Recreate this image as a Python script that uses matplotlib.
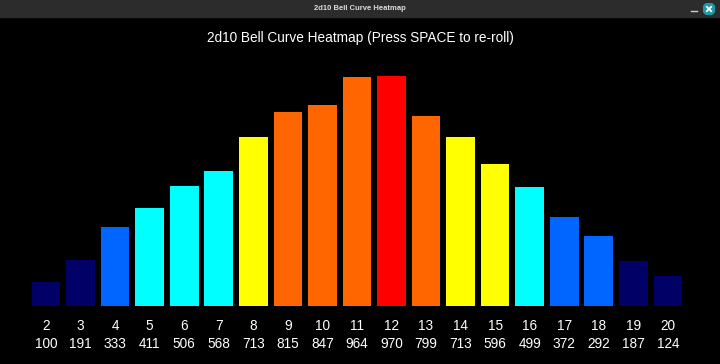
import matplotlib
matplotlib.use('Agg')
import matplotlib.pyplot as plt
import matplotlib.transforms as mtransforms
from matplotlib.patches import Rectangle, Circle

sums = list(range(2, 21))
counts = [100, 191, 333, 411, 506, 568, 713, 815, 847, 964,
          970, 799, 713, 596, 499, 372, 292, 187, 124]

title = '2d10 Bell Curve Heatmap (Press SPACE to re-roll)'
window_title = '2d10 Bell Curve Heatmap'


def heat_color(v, vmax):
    r = v / vmax
    if r >= 1.0:
        return '#ff0000'
    if r >= 0.8:
        return '#ff6600'
    if r >= 0.6:
        return '#ffff00'
    if r >= 0.4:
        return '#00ffff'
    if r >= 0.2:
        return '#0066ff'
    return '#000066'


W, H = 720, 364
fig = plt.figure(figsize=(W / 100, H / 100), dpi=100, facecolor='black')

base = 305.5
ax = fig.add_axes([0, (H - base) / H, 1, base / H])
ax.set_facecolor('black')
px_per_unit = 229.8 / 970
ax.set_ylim(0, base / px_per_unit)
pitch = 34.55
ax.set_xlim(2 - 46 / pitch, 2 + (W - 46) / pitch)
ax.axis('off')

vmax = max(counts)
colors = [heat_color(c, vmax) for c in counts]
ax.bar(sums, counts, width=0.83, color=colors)

trans = mtransforms.blended_transform_factory(ax.transData, ax.transAxes)
for s, c in zip(sums, counts):
    ax.text(s, -20.5 / base, str(s), transform=trans, ha='center', va='center',
            color='white', fontsize=9.8, family='Liberation Sans', clip_on=False)
    ax.text(s, -38.5 / base, str(c), transform=trans, ha='center', va='center',
            color='white', fontsize=9.8, family='Liberation Sans', clip_on=False)

fig.text(0.5, (H - 38) / H, title, ha='center', va='center', color='white',
         fontsize=9.8, family='Liberation Sans')

# window title bar
bar_h = 17
fig.patches.append(Rectangle((0, (H - bar_h) / H), 1, bar_h / H,
                             transform=fig.transFigure, color='#2c2c2c', zorder=-1))
fig.text(0.5, (H - 8.5) / H, window_title, ha='center', va='center',
         color='#dcdcdc', fontsize=5.5, family='Liberation Sans', weight='bold')
close_ax = fig.add_axes([703 / W, (H - 15) / H, 12 / W, 12 / H], zorder=5)
close_ax.set_xlim(-1, 1)
close_ax.set_ylim(-1, 1)
close_ax.axis('off')
close_ax.add_patch(Circle((0, 0), 1, color='#1e9aa6'))
close_ax.plot([-0.35, 0.35], [-0.35, 0.35], color='white', lw=1.3)
close_ax.plot([-0.35, 0.35], [0.35, -0.35], color='white', lw=1.3)
fig.lines.append(plt.Line2D([691 / W, 697 / W], [(H - 11) / H] * 2,
                            transform=fig.transFigure, color='#cccccc', lw=1))

fig.savefig('out.png', dpi=100, facecolor='black')
